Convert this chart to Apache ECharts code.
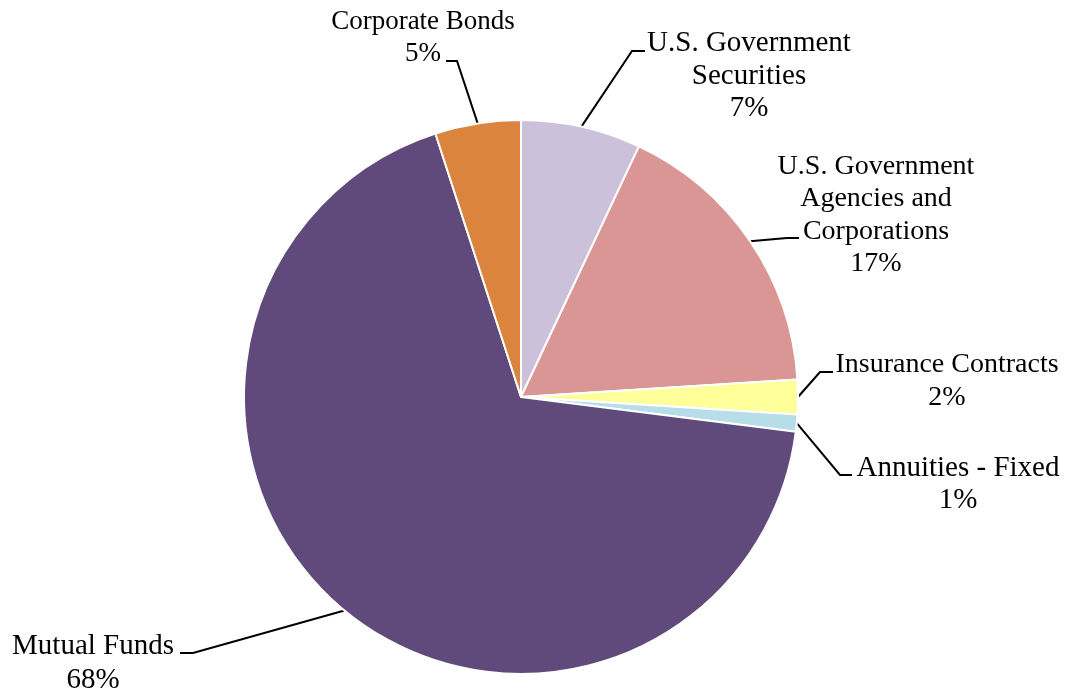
<!DOCTYPE html>
<html>
<head>
<meta charset="utf-8">
<script src="https://cdn.jsdelivr.net/npm/echarts@6/dist/echarts.min.js"></script>
<style>
  html, body { margin: 0; padding: 0; background: #ffffff; }
  #chart { width: 1067px; height: 694px; }
</style>
</head>
<body>
<div id="chart"></div>
<script>
// Plan asset allocation, clockwise from 12 o'clock
const categories = [
  'U.S. Government\nSecurities',
  'U.S. Government\nAgencies and\nCorporations',
  'Insurance Contracts',
  'Annuities - Fixed',
  'Mutual Funds',
  'Corporate Bonds'
];
const shares = [7, 17, 2, 1, 68, 5];
const colors = ['#CCC1DA', '#D99694', '#FFFF99', '#B7DEE8', '#604A7B', '#DB843E'];

// Label block centres, type sizes and the elbow / end of each leader line
const labelPlacement = [
  { x: 749, y: 76,  size: 29, lh: 32.5, elbow: [632, 51],  end: [645, 51] },
  { x: 876, y: 215, size: 28, lh: 32.5, elbow: [787, 238], end: [799, 238] },
  { x: 947, y: 381, size: 28, lh: 33,   elbow: [820, 372], end: [833, 372] },
  { x: 958, y: 484, size: 29, lh: 32,   elbow: [840, 475], end: [852, 475] },
  { x: 93,  y: 663, size: 29, lh: 34,   elbow: [193, 653], end: [180, 653] },
  { x: 423, y: 38,  size: 27, lh: 32,   elbow: [457, 61],  end: [446, 61] }
];

const chart = echarts.init(document.getElementById('chart'), null, { renderer: 'canvas' });

chart.setOption({
  animation: false,
  backgroundColor: '#ffffff',
  series: [{
    type: 'pie',
    center: [521, 397],
    radius: 277,
    startAngle: 90,
    clockwise: true,
    avoidLabelOverlap: false,
    data: categories.map((name, i) => ({
      name: name,
      value: shares[i],
      itemStyle: { color: colors[i] },
      label: { fontSize: labelPlacement[i].size, lineHeight: labelPlacement[i].lh }
    })),
    itemStyle: { borderColor: '#ffffff', borderWidth: 2 },
    label: {
      show: true,
      position: 'outside',
      formatter: '{b}\n{d}%',
      fontFamily: '"Liberation Serif", "Times New Roman", serif',
      fontSize: 28,
      lineHeight: 32,
      color: '#000000',
      align: 'center'
    },
    labelLine: {
      show: true,
      length: 20,
      length2: 10,
      lineStyle: { color: '#000000', width: 2 }
    },
    labelLayout: function (params) {
      const p = labelPlacement[params.dataIndex];
      const start = params.labelLinePoints ? params.labelLinePoints[0] : p.elbow;
      return {
        x: p.x,
        y: p.y,
        align: 'center',
        verticalAlign: 'middle',
        labelLinePoints: [start, p.elbow, p.end]
      };
    },
    emphasis: { disabled: true }
  }]
});
</script>
</body>
</html>
